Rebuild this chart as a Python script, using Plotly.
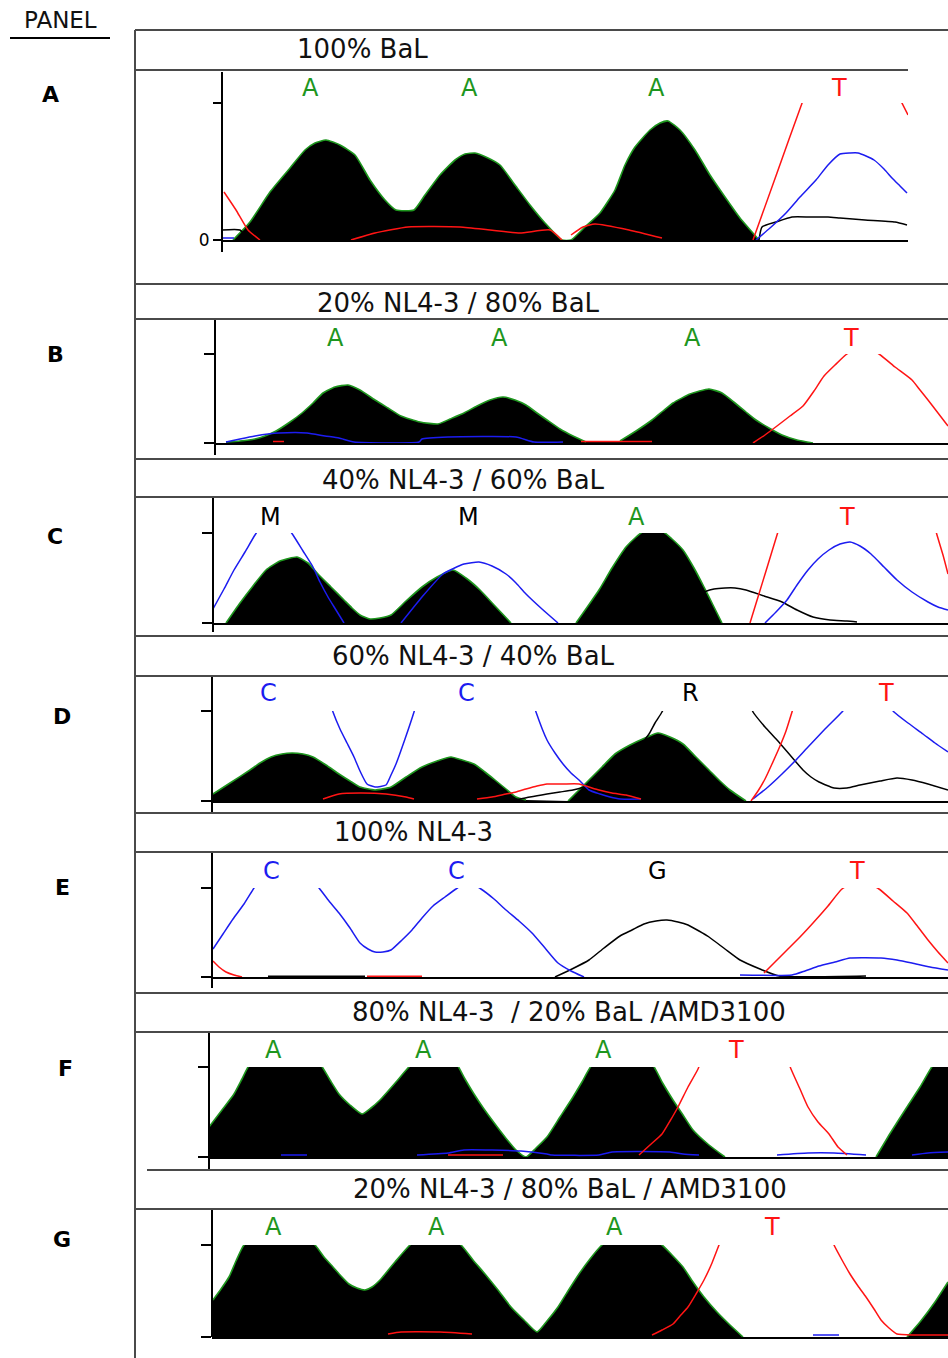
import plotly.graph_objects as go

# ---------------- DATA (scan position, signal height) ----------------
panel_ids = ["A", "B", "C", "D", "E", "F", "G"]
panel_titles = ["100% BaL", "20% NL4-3 / 80% BaL", "40% NL4-3 / 60% BaL",
                "60% NL4-3 / 40% BaL", "100% NL4-3",
                "80% NL4-3 \u00a0/ 20% BaL /AMD3100", "20% NL4-3 / 80% BaL / AMD3100"]

# base calls per panel: letters and scan positions
calls_A = ["A", "A", "A", "T"]; callpos_A = [310, 469, 656, 839]
calls_B = ["A", "A", "A", "T"]; callpos_B = [335, 499, 692, 851]
calls_C = ["M", "M", "A", "T"]; callpos_C = [270, 468, 636, 847]
calls_D = ["C", "C", "R", "T"]; callpos_D = [268, 466, 690, 886]
calls_E = ["C", "C", "G", "T"]; callpos_E = [271, 456, 657, 857]
calls_F = ["A", "A", "A", "T"]; callpos_F = [273, 423, 603, 736]
calls_G = ["A", "A", "A", "T"]; callpos_G = [273, 436, 614, 772]

# Panel A
A_ade_x = [233, 250, 270, 290, 305, 315, 326, 340, 355, 370, 385, 396, 414, 425, 440, 455, 465, 475, 488, 500, 515, 530, 545, 562,
           571, 585, 600, 615, 625, 635, 650, 660, 668, 680, 695, 710, 725, 740, 759]
A_ade_y = [0, 18, 48, 72, 90, 97, 100, 95, 85, 60, 40, 30, 30, 45, 65, 80, 86, 87, 82, 75, 55, 35, 17, 0,
           0, 13, 27, 50, 75, 93, 110, 117, 119, 110, 90, 65, 43, 22, 0]
A_gua_x = [222, 240, 248, None, 759, 762, 776, 792, 810, 828, 840, 865, 895, 907]
A_gua_y = [10, 10, 0, None, 0, 13, 18, 23, 23, 23, 22, 20, 18, 15]
A_cyt_x = [222, 234, None, 756, 770, 786, 800, 816, 828, 840, 850, 858, 866, 874, 884, 892, 900, 907]
A_cyt_y = [2, 2, None, 0, 12, 27, 43, 60, 75, 86, 87, 87, 84, 80, 71, 62, 54, 47]
A_thy_x = [224, 236, 248, 260, None, 351, 375, 408, 460, 490, 520, 550, 562, None, 571, 583, 595, 629, 662, None,
           753, 777, 801, 815, 840, 870, 895, 908]
A_thy_y = [48, 30, 10, 0, None, 0, 7, 13, 13, 10, 7, 10, 0, None, 5, 13, 16, 10, 2, None,
           0, 67, 134, 170, 195, 185, 150, 125]

# Panel B
B_ade_x = [226, 240, 255, 265, 276, 290, 302, 313, 323, 335, 348, 360, 375, 388, 401, 420, 438, 450, 464, 477, 490, 503, 515,
           526, 537, 547, 560, 573, 586, None, 620, 636, 652, 663, 673, 690, 709, 722, 735, 746, 756, 769, 782, 797, 813]
B_ade_y = [1, 2, 4, 7, 12, 21, 30, 40, 50, 56, 58, 53, 43, 35, 27, 21, 19, 24, 30, 37, 43, 46, 43,
           38, 30, 23, 14, 7, 1, None, 2, 12, 23, 32, 40, 49, 54, 50, 40, 31, 23, 15, 8, 3, 0]
B_gua_x = [670, 688, 706, 725, 753]
B_gua_y = [1, 4, 7, 5, 2]
B_cyt_x = [226, 240, 255, 268, 279, 307, 325, 339, 354, 419, 422, 448, 516, 534, 563]
B_cyt_y = [1, 4, 7, 9, 10, 10, 7, 5, 1, 1, 4, 6, 6, 1, 1]
B_thy_x = [273, 284, None, 581, 652, None, 753, 765, 777, 790, 803, 814, 824, 835, 847, 862, 879, 895, 912, 920, 928, 938, 948]
B_thy_y = [1.5, 1.5, None, 1.5, 1.5, None, 0, 8, 17, 27, 37, 52, 67, 78, 89, 96, 89, 76, 63, 53, 43, 30, 17]

# Panel C
C_ade_x = [226, 240, 253, 266, 280, 297, 308, 318, 331, 344, 352, 360, 370, 380, 391, 406, 422, 437, 453, 466, 480, 495, 511, None,
           576, 588, 599, 612, 626, 635, 644, 662, 672, 683, 694, 704, 713, 722]
C_ade_y = [0, 20, 37, 53, 62, 66, 60, 49, 36, 23, 15, 8, 4, 5, 8, 22, 36, 46, 53, 45, 33, 17, 0, None,
           0, 17, 33, 55, 76, 85, 92, 92, 84, 73, 55, 36, 18, 0]
C_gua_x = [690, 704, 714, 725, 735, 746, 764, 782, 797, 813, 830, 847, 857]
C_gua_y = [25, 31, 34, 35, 35, 33, 27, 21, 13, 6, 3, 2, 1]
C_cyt_x = [213, 224, 234, 245, 255, 265, 274, 284, 293, 303, 313, 320, 328, 336, 344, None,
           401, 422, 443, 464, 479, 492, 506, 516, 526, 542, 558, None,
           765, 776, 787, 797, 808, 818, 829, 840, 850, 860, 871, 884, 897, 912, 928, 938, 948]
C_cyt_y = [14, 34, 53, 71, 88, 102, 107, 100, 88, 72, 56, 41, 26, 13, 0, None,
           0, 26, 49, 59, 61, 57, 49, 40, 29, 14, 0, None,
           0, 11, 23, 38, 53, 64, 73, 79, 81, 77, 69, 56, 43, 31, 21, 16, 13]
C_thy_x = [750, 758, 766, 777, 785, None, 930, 937, 943, 948]
C_thy_y = [0, 26, 52, 88, 114, None, 113, 88, 68, 49]

# Panel D
D_ade_x = [213, 230, 250, 260, 271, 282, 292, 303, 313, 326, 339, 350, 360, 375, 391, 406, 422, 437, 451, 462, 474, 485, 495, 506, 516, 526, None,
           568, 578, 589, 602, 615, 630, 645, 658, 670, 683, 696, 709, 720, 730, 746]
D_ade_y = [7, 18, 31, 38, 44, 47, 48, 47, 44, 36, 27, 20, 14, 11, 14, 24, 34, 40, 44, 41, 37, 29, 21, 12, 4, 1, None,
           0, 10, 21, 34, 47, 56, 63, 68, 64, 57, 44, 31, 20, 11, 0]
D_gua_x = [516, 530, 547, 560, 573, 584, 600, 615, 630, 640, 649, 655, 662, 670, 700,
           745, 753, 765, 777, 790, 803, 811, 819, 834, 847, 860, 880, 897, 912, 928, 948]
D_gua_y = [1, 4, 7, 9, 11, 14, 20, 30, 42, 55, 67, 78, 89, 105, 140,
           110, 89, 74, 61, 46, 31, 24, 19, 13, 13, 16, 20, 23, 21, 17, 11]
D_cyt_x = [326, 333, 340, 347, 354, 360, 367, 375, 386, 391, 396, 405, 414, 420, None,
           528, 536, 547, 555, 563, 571, 579, 589, 600, 610, 620, 641, None,
           753, 768, 782, 795, 808, 825, 842, 855, 868, 881, 894, 908, 923, 935, 948]
D_cyt_y = [112, 89, 72, 58, 44, 30, 17, 14, 16, 26, 37, 62, 89, 110, None,
           115, 89, 61, 48, 37, 28, 21, 11, 7, 4, 2, 2, None,
           2, 14, 27, 40, 54, 72, 89, 105, 110, 105, 89, 78, 67, 58, 49]
D_thy_x = [323, 339, 360, 386, 406, 414, None, 477, 492, 506, 516, 526, 537, 547, 563, 579, 589, 599, 612, 626, 641, None,
           751, 758, 765, 772, 780, 786, 792, 800]
D_thy_y = [2, 7, 8, 7, 4, 2, None, 2, 4, 7, 9, 12, 15, 17, 17, 17, 14, 11, 8, 6, 2, None,
           0, 10, 22, 37, 55, 70, 89, 115]

# Panel E
E_gua_x = [268, 365, None, 555, 572, 589, 604, 620, 632, 644, 656, 667, 678, 688, 699, 709, 725, 740, 760, 779, 866]
E_gua_y = [0.8, 0.8, None, 0, 8, 17, 29, 41, 47, 53, 56, 57, 55, 52, 46, 40, 28, 17, 8, 1, 1]
E_cyt_x = [213, 223, 233, 244, 254, 265, 285, 305, 319, 329, 339, 350, 360, 368, 375, 383, 391, 402, 412, 422, 433, 445,
           456, 468, 481, 494, 506, 519, 532, 545, 558, 571, 584, None,
           740, 792, 805, 819, 835, 850, 881, 897, 912, 930, 948]
E_cyt_y = [28, 43, 58, 73, 89, 105, 115, 105, 89, 76, 64, 49, 34, 28, 25, 25, 27, 37, 47, 59, 71, 80,
           88, 95, 88, 78, 67, 56, 44, 29, 14, 6, 0, None,
           2, 2, 6, 11, 15, 19, 19, 17, 14, 10, 7]
E_thy_x = [213, 219, 226, 234, 242, None, 367, 422, None,
           764, 775, 787, 800, 813, 828, 842, 860, 879, 893, 907, 918, 928, 938, 948]
E_thy_y = [16, 10, 5, 2, 0, None, 0.8, 0.8, None,
           4, 15, 27, 40, 54, 71, 88, 97, 88, 76, 64, 50, 37, 25, 14]

# Panel F
F_ade_x = [209, 222, 234, 242, 250, 265, 285, 305, 320, 330, 339, 350, 362, 371, 380, 396, 412, 430, 445, 456, 465, 474, 484,
           495, 505, 516, 526, 536, 547, 560, 573, 582, 592, 610, 630, 652, 662, 673, 683, 693, 709, 725, None,
           876, 891, 907, 920, 933, 948]
F_ade_y = [30, 47, 63, 78, 93, 100, 104, 100, 93, 77, 63, 52, 43, 49, 57, 75, 93, 100, 100, 94, 78, 63, 48,
           33, 20, 7, 0, 9, 20, 40, 60, 75, 92, 100, 100, 93, 75, 57, 42, 27, 12, 0, None,
           0, 25, 50, 70, 92, 110]
F_cyt_x = [281, 307, None, 417, 448, 464, 521, 547, 552, 599, 612, 670, 683, 699, None, 777, 808, 834, 866, None, 912, 928, 948]
F_cyt_y = [2, 2, None, 2, 4, 7, 6, 3, 2, 2, 5, 5, 3, 2, None, 2, 4, 4, 2, None, 2, 4, 5]
F_thy_x = [448, 503, None, 639, 650, 662, 670, 678, 688, 698, 706, None, 783, 791, 800, 808, 818, 829, 838, 847]
F_thy_y = [2, 2, None, 2, 12, 23, 36, 50, 70, 88, 110, None, 110, 88, 68, 50, 35, 23, 10, 2]

# Panel G
G_ade_x = [213, 221, 229, 236, 244, 260, 280, 300, 315, 324, 333, 341, 349, 357, 365, 372, 380, 395, 410, 425, 445, 461, 473,
           485, 498, 511, 524, 537, 547, 558, 568, 579, 590, 602, 620, 640, 662, 672, 683, 693, 704, 717, 730, 743, None,
           907, 920, 935, 948]
G_ade_y = [37, 48, 60, 76, 92, 102, 105, 102, 92, 80, 70, 61, 53, 49, 47, 50, 57, 75, 92, 102, 102, 92, 77,
           63, 47, 30, 17, 5, 16, 30, 46, 63, 78, 92, 102, 102, 92, 82, 70, 55, 40, 25, 12, 0, None,
           0, 15, 35, 55]
G_cyt_x = [813, 839]
G_cyt_y = [2, 2]
G_thy_x = [388, 401, 440, 472, None, 652, 662, 673, 680, 688, 696, 704, 712, 719, 727, None,
           826, 834, 842, 850, 858, 866, 874, 881, 889, 897, 915, 948]
G_thy_y = [3, 5, 5, 3, None, 2, 7, 13, 21, 30, 43, 57, 74, 92, 112, None,
           112, 92, 77, 63, 51, 40, 28, 17, 9, 3, 2, 2]

# ---------------- LAYOUT GEOMETRY (pixels of the 948x1358 page) ----------------
W, H = 948, 1358
def px(x): return x / W
def py(y): return 1 - y / H

geom = {
    "A": dict(ax=222, right=908, base=240, tick=103, atop=72, abot=252, lab=(50, 95), tpos=(362, 49), cy=88),
    "B": dict(ax=215, right=948, base=443, tick=354, atop=320, abot=455, lab=(55, 355), tpos=(458, 303), cy=338),
    "C": dict(ax=213, right=948, base=623, tick=533, atop=498, abot=632, lab=(55, 537), tpos=(463, 480), cy=517),
    "D": dict(ax=212, right=948, base=801, tick=711, atop=677, abot=812, lab=(62, 716), tpos=(473, 656), cy=693),
    "E": dict(ax=212, right=948, base=977, tick=888, atop=853, abot=988, lab=(62, 887), tpos=(413, 832), cy=871),
    "F": dict(ax=209, right=948, base=1157, tick=1067, atop=1033, abot=1170, lab=(65, 1068), tpos=(569, 1012), cy=1050),
    "G": dict(ax=212, right=948, base=1337, tick=1245, atop=1210, abot=1337, lab=(62, 1239), tpos=(570, 1189), cy=1227),
}

traces_by_panel = {
    "A": (A_ade_x, A_ade_y, A_gua_x, A_gua_y, A_cyt_x, A_cyt_y, A_thy_x, A_thy_y),
    "B": (B_ade_x, B_ade_y, B_gua_x, B_gua_y, B_cyt_x, B_cyt_y, B_thy_x, B_thy_y),
    "C": (C_ade_x, C_ade_y, C_gua_x, C_gua_y, C_cyt_x, C_cyt_y, C_thy_x, C_thy_y),
    "D": (D_ade_x, D_ade_y, D_gua_x, D_gua_y, D_cyt_x, D_cyt_y, D_thy_x, D_thy_y),
    "E": ([], [], E_gua_x, E_gua_y, E_cyt_x, E_cyt_y, E_thy_x, E_thy_y),
    "F": (F_ade_x, F_ade_y, [], [], F_cyt_x, F_cyt_y, F_thy_x, F_thy_y),
    "G": (G_ade_x, G_ade_y, [], [], G_cyt_x, G_cyt_y, G_thy_x, G_thy_y),
}
calls_by_panel = {"A": (calls_A, callpos_A), "B": (calls_B, callpos_B), "C": (calls_C, callpos_C),
                  "D": (calls_D, callpos_D), "E": (calls_E, callpos_E), "F": (calls_F, callpos_F),
                  "G": (calls_G, callpos_G)}

GREEN = "#1e961e"
RED = "#ff1414"
BLUE = "#1c1cf0"
BLACK = "#000000"
call_color = {"A": GREEN, "T": RED, "C": BLUE, "G": BLACK, "M": BLACK, "R": BLACK}
FONT = "DejaVu Sans"

fig = go.Figure()
layout = dict(template="none", width=W, height=H, autosize=False,
              margin=dict(l=0, r=0, t=0, b=0, pad=0, autoexpand=False),
              paper_bgcolor="white", plot_bgcolor="white", showlegend=False,
              font=dict(family=FONT, color="black"))
shapes = []
annotations = []

for i, pid in enumerate(panel_ids):
    n = i + 1
    g = geom[pid]
    sig_max = g["base"] - g["tick"]
    xa = "x" if n == 1 else f"x{n}"
    ya = "y" if n == 1 else f"y{n}"
    xkey = "xaxis" if n == 1 else f"xaxis{n}"
    ykey = "yaxis" if n == 1 else f"yaxis{n}"
    layout[xkey] = dict(domain=[px(g["ax"]), px(g["right"])], range=[g["ax"], g["right"]], anchor=ya,
                        showline=True, linecolor="black", linewidth=2, showgrid=False, zeroline=False,
                        showticklabels=False, ticks="", automargin=False)
    layout[ykey] = dict(domain=[py(g["base"]), py(g["tick"])], range=[0, sig_max], anchor=xa,
                        showline=False, showgrid=False, zeroline=False, automargin=False,
                        tickmode="array", tickvals=[0, sig_max], ticktext=["0", ""], ticks="outside",
                        ticklen=8 if n == 1 else 10,
                        tickwidth=2, tickcolor="black", showticklabels=(n == 1),
                        tickfont=dict(family=FONT, size=17, color="black"))
    ax_, ay_, gx, gy, cx, cy_, tx, ty = traces_by_panel[pid]
    if ax_:
        fig.add_trace(go.Scatter(x=ax_, y=ay_, xaxis=xa, yaxis=ya, mode="lines", fill="tozeroy",
                                 fillcolor="black", line=dict(color=GREEN, width=1.6, shape="spline", smoothing=0.5),
                                 hoverinfo="skip"))
    if gx:
        fig.add_trace(go.Scatter(x=gx, y=gy, xaxis=xa, yaxis=ya, mode="lines",
                                 line=dict(color=BLACK, width=1.5, shape="spline", smoothing=0.5), hoverinfo="skip"))
    if cx:
        fig.add_trace(go.Scatter(x=cx, y=cy_, xaxis=xa, yaxis=ya, mode="lines",
                                 line=dict(color=BLUE, width=1.5, shape="spline", smoothing=0.5), hoverinfo="skip"))
    if tx:
        fig.add_trace(go.Scatter(x=tx, y=ty, xaxis=xa, yaxis=ya, mode="lines",
                                 line=dict(color=RED, width=1.5, shape="spline", smoothing=0.5), hoverinfo="skip"))
    # y axis line (extends above & below the plotting range)
    shapes.append(dict(type="line", xref="paper", yref="paper", x0=px(g["ax"]), x1=px(g["ax"]),
                       y0=py(g["atop"]), y1=py(g["abot"]), line=dict(color="black", width=2)))
    # base calls
    letters, positions = calls_by_panel[pid]
    for L, p in zip(letters, positions):
        annotations.append(dict(x=p, y=py(g["cy"]), xref=xa, yref="paper", text=L, showarrow=False,
                                font=dict(family=FONT, size=24, color=call_color[L]),
                                xanchor="center", yanchor="middle"))
    # panel letter
    annotations.append(dict(x=px(g["lab"][0]), y=py(g["lab"][1]), xref="paper", yref="paper", text=f"<b>{pid}</b>",
                            showarrow=False, font=dict(family=FONT, size=22, color="black"),
                            xanchor="center", yanchor="middle"))
    # header title
    annotations.append(dict(x=px(g["tpos"][0]), y=py(g["tpos"][1]), xref="paper", yref="paper",
                            text=panel_titles[i], showarrow=False,
                            font=dict(family=FONT, size=26, color="#111111"),
                            xanchor="center", yanchor="middle"))

# header box lines
hlines = [(30, 135, 948), (70, 135, 908), (284, 135, 948), (319, 135, 948), (459, 135, 948), (497, 135, 948),
          (636, 135, 948), (676, 135, 948), (813, 135, 948), (852, 135, 948), (993, 135, 948), (1032, 135, 948),
          (1170, 147, 948), (1209, 135, 948)]
for y, x0, x1 in hlines:
    shapes.append(dict(type="line", xref="paper", yref="paper", x0=px(x0), x1=px(x1), y0=py(y), y1=py(y),
                       line=dict(color="#4a4a4a", width=2)))
shapes.append(dict(type="line", xref="paper", yref="paper", x0=px(135), x1=px(135), y0=py(30), y1=py(1358),
                   line=dict(color="#4a4a4a", width=2)))
# PANEL heading
annotations.append(dict(x=px(60), y=py(20), xref="paper", yref="paper", text="PANEL", showarrow=False,
                        font=dict(family=FONT, size=23, color="#111111"), xanchor="center", yanchor="middle"))
shapes.append(dict(type="line", xref="paper", yref="paper", x0=px(10), x1=px(110), y0=py(38), y1=py(38),
                   line=dict(color="black", width=2)))

layout["shapes"] = shapes
layout["annotations"] = annotations
fig.update_layout(**layout)
fig.write_html("out.html", config={"displayModeBar": False, "responsive": False},
               post_script="document.documentElement.style.margin='0';document.body.style.margin='0';"
                           "document.body.style.padding='0';document.body.style.overflow='hidden';"
                           "document.documentElement.style.overflow='hidden';")
